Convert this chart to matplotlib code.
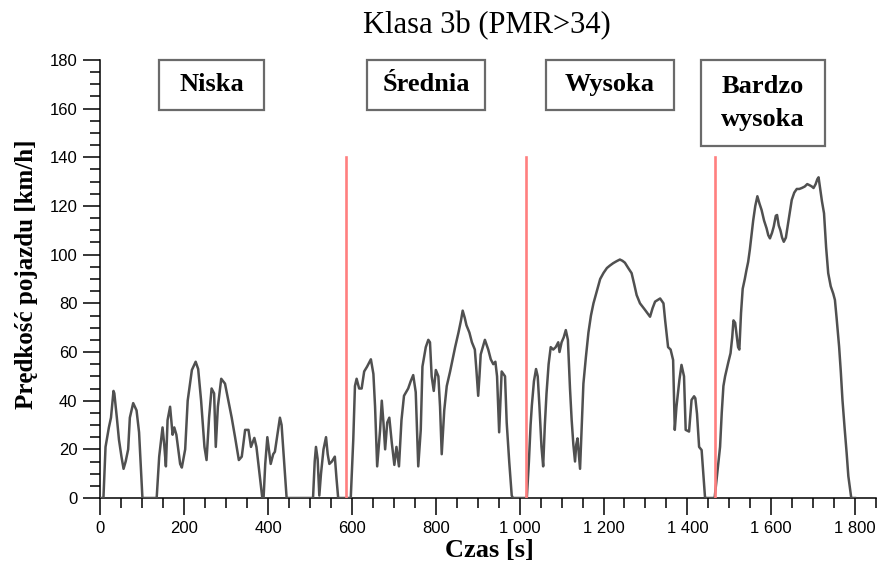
import numpy as np
import matplotlib
matplotlib.use("Agg")
import matplotlib.pyplot as plt
from matplotlib.patches import Rectangle

# speed trace, split by cycle phase
t_low = [0, 7, 12, 20, 25, 31, 33, 39, 44, 50, 55, 60, 66, 70, 78, 86, 92, 100,
         134, 140, 148, 152, 156, 160, 166, 172, 176, 181, 190, 194, 202, 208,
         218, 227, 233, 240, 248, 253, 259, 265, 271, 275, 280, 288, 297, 305,
         313, 321, 330, 337, 345, 353, 359, 367, 372, 380, 386, 389, 393, 398,
         406, 412, 416, 422, 428, 432, 438, 444,
         507, 511, 514, 518, 522, 526, 532, 538, 542, 546, 552, 559, 563, 567]
v_low = [0, 0, 21, 29, 33, 44, 43, 33, 24, 17, 12, 15, 20, 33, 39, 36, 27, 0,
         0, 17, 29, 22, 13, 32, 37.5, 26, 29, 26, 14, 12.5, 20, 40,
         52.6, 56, 53, 40, 21, 15.6, 33, 45, 43, 21, 37.5, 49, 47, 40,
         33, 25, 15.6, 17, 28, 28, 21, 24.7, 21, 9, 0, 0, 14, 25,
         14, 18, 19, 26, 33, 30, 15, 0,
         0, 15, 21, 16, 1, 10, 20, 25, 18, 14, 15, 17, 8, 0]

t_mid = [597, 603, 607, 611, 617, 623, 629, 636, 645, 651, 655, 660, 667, 671,
         675, 679, 684, 689, 695, 701, 706, 712, 718, 724, 734, 740, 746, 752,
         758, 764, 768, 776, 782, 786, 790, 795, 800, 806, 810, 814, 820, 826,
         834, 846, 854, 860, 864, 869, 873, 880, 886, 893, 897, 901, 904, 907,
         912, 917, 925, 931, 937, 942, 946, 951, 954, 957, 961, 965, 969, 975,
         981, 984]
v_mid = [0, 24, 46, 49, 45, 45, 52, 54, 57, 51, 37.5, 13, 28, 40,
         31, 20, 31, 33, 22.5, 13.6, 21, 13, 32, 42, 45, 48, 50.5, 43.5,
         13, 28, 54, 62, 65, 64, 50, 44, 52.6, 50, 37.5, 18, 36, 46,
         52, 62, 68, 73, 77, 74, 71, 68, 64, 61, 52, 42, 50, 59,
         62, 65, 61, 57, 55, 56, 50, 27, 40, 52, 51, 50, 31, 15,
         1, 0]

t_high = [1017, 1022, 1026, 1029, 1034, 1039, 1043, 1047, 1052, 1056, 1060,
          1064, 1069, 1074, 1080, 1086, 1092, 1095, 1100, 1105, 1110, 1115,
          1120, 1124, 1128, 1132, 1135, 1138, 1141, 1144, 1148, 1152, 1158,
          1164, 1170, 1176, 1184, 1192, 1200, 1208, 1215, 1223, 1231, 1239,
          1245, 1251, 1259, 1267, 1273, 1279, 1287, 1299, 1311, 1317, 1323,
          1335, 1343, 1347, 1354, 1360, 1366, 1370, 1374, 1381, 1386, 1392,
          1396, 1404, 1410, 1416, 1419, 1423, 1428, 1434, 1438, 1442, 1444]
v_high = [0, 15, 30, 38, 48, 53, 50, 38, 21, 13, 30,
          43, 55, 62, 61, 62, 64, 60, 64, 66, 69, 65,
          45, 32, 22, 15, 22, 24.5, 18, 12, 30, 47, 58,
          68, 75, 80, 85, 90, 92.5, 94.5, 95.5, 96.5, 97.3, 98,
          97.5, 96.7, 94.5, 92.4, 88, 83.4, 80, 77.3, 74.5, 78, 80.7,
          82, 80, 73, 62, 61, 56.7, 28, 37.5, 48.5, 54.7, 50,
          28, 27.3, 40.3, 41.8, 41, 34.6, 21, 19.7, 10, 0.5, 0]

t_xhigh = [1465, 1470, 1478, 1482, 1486, 1490, 1494, 1498, 1503, 1507, 1510,
           1514, 1517, 1521, 1524, 1528, 1532, 1537, 1541, 1545, 1549, 1553,
           1557, 1562, 1567, 1572, 1577, 1583, 1589, 1593, 1597, 1602, 1606,
           1611, 1614, 1618, 1622, 1626, 1630, 1635, 1639, 1644, 1649, 1655,
           1661, 1667, 1673, 1680, 1686, 1692, 1697, 1701, 1706, 1710, 1713,
           1716, 1721, 1726, 1731, 1736, 1742, 1748, 1752, 1756, 1762, 1766,
           1770, 1775, 1780, 1784, 1791, 1800]
v_xhigh = [0, 8, 21, 35, 46, 50, 53, 56, 59.5, 66, 73,
           72, 67.7, 62, 61, 76, 86, 90, 93.7, 97, 102, 108,
           114, 120, 124, 121, 118.4, 114, 110.8, 108, 106.7, 109, 111.5,
           116, 116.3, 112, 110, 107, 105.3, 107, 111.5, 117, 122.5, 125.5,
           127, 127, 127.4, 128, 129, 128.5, 128, 127.4, 129, 131, 131.8,
           128, 122, 117, 103, 92.4, 87, 84, 81.4, 74, 62.2, 52,
           40.3, 29, 18.4, 9, 0, 0]

phase_ends = [585, 1016, 1466]
phase_names = ["Niska", "Średnia", "Wysoka", "Bardzo\nwysoka"]
box_x0 = [140, 636, 1063, 1432]
box_x1 = [390, 917, 1368, 1728]
box_y0 = [159.5, 159.5, 159.5, 144.5]

x_ticks = [0, 200, 400, 600, 800, 1000, 1200, 1400, 1600, 1800]
x_ticklabels = ["0", "200", "400", "600", "800", "1 000", "1 200", "1 400", "1 600", "1 800"]

time_s = np.array(t_low + t_mid + t_high + t_xhigh)
speed = np.array(v_low + v_mid + v_high + v_xhigh)

serif = "Liberation Serif"
sans = "Liberation Sans"

fig = plt.figure(figsize=(8.78, 5.75), dpi=100)
ax = fig.add_axes([100.5 / 878, 77 / 575, 775.5 / 878, 438 / 575])

ax.plot(time_s, speed, color="#505050", lw=1.8, solid_joinstyle="round", zorder=3)
for t in phase_ends:
    ax.plot([t, t], [0, 140], color="#ff7f7f", lw=1.9, zorder=4)

ax.set_xlim(0, 1850)
ax.set_ylim(0, 180)
for s in ["top", "right"]:
    ax.spines[s].set_visible(False)
for s in ["left", "bottom"]:
    ax.spines[s].set_linewidth(1.1)

ax.set_xticks(x_ticks)
ax.set_xticklabels(x_ticklabels)
ax.set_xticks(np.arange(0, 1851, 50), minor=True)
ax.set_yticks(np.arange(0, 181, 20))
ax.set_yticks(np.arange(0, 181, 5), minor=True)
ax.tick_params(which="major", length=12.5, width=1.1, pad=4, labelsize=12)
ax.tick_params(which="minor", length=7, width=1.1)
for lab in ax.get_xticklabels() + ax.get_yticklabels():
    lab.set_family(sans)

for name, x0, x1, y0 in zip(phase_names, box_x0, box_x1, box_y0):
    ax.add_patch(Rectangle((x0, y0), x1 - x0, 180 - y0, fill=False,
                           edgecolor="#6a6a6a", lw=1.6, clip_on=False, zorder=5))
    ax.text((x0 + x1) / 2, (y0 + 180) / 2, name, ha="center", va="center",
            family=serif, fontweight="bold", fontsize=19, linespacing=1.55)

fig.text(0.555, 0.955, "Klasa 3b (PMR>34)", ha="center", va="center",
         family=serif, fontsize=22)
fig.text(0.030, 0.523, "Prędkość pojazdu [km/h]", rotation=90, ha="center",
         va="center", family=serif, fontweight="bold", fontsize=18)
fig.text(0.557, 0.042, "Czas [s]", ha="center", va="center",
         family=serif, fontweight="bold", fontsize=19)

fig.savefig("out.png", dpi=100)
